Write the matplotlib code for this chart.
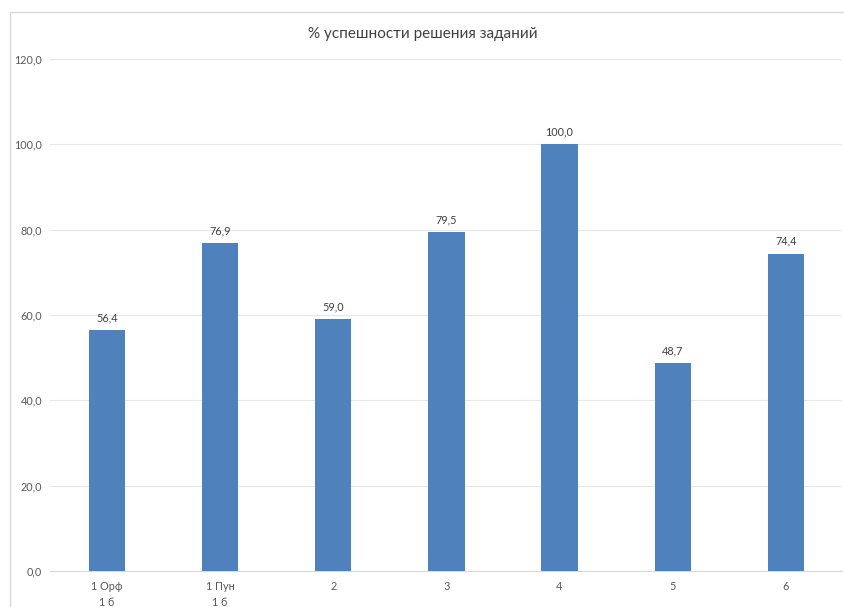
import matplotlib.pyplot as plt
from matplotlib.patches import Rectangle

plt.rcParams['font.family'] = ['Lato', 'DejaVu Sans']

categories = ['1 Орф\n1 б', '1 Пун\n1 б', '2', '3', '4', '5', '6']
values = [56.4, 76.9, 59.0, 79.5, 100.0, 48.7, 74.4]
yticks = [0, 20, 40, 60, 80, 100, 120]

fig = plt.figure(figsize=(8.45, 6.07), dpi=100)
# chart border
fig.patches.append(Rectangle((10 / 845, -0.01), 1.0, 1 - 12 / 607 + 0.01,
                             transform=fig.transFigure, fill=False,
                             edgecolor='#d9d9d9', linewidth=1))

ax = fig.add_axes([50.4 / 845, 36 / 607, 792 / 845, 512 / 607])
x = range(len(categories))
ax.bar(x, values, width=0.32, color='#4f81bd', zorder=3)

for xi, v in zip(x, values):
    ax.text(xi, v + 1.6, f'{v:.1f}'.replace('.', ','), ha='center', va='bottom',
            fontsize=7.8, color='#404040')

ax.set_xlim(-0.5, len(categories) - 0.5)
ax.set_ylim(0, 120)
ax.set_yticks(yticks)
ax.set_yticklabels([f'{t:.1f}'.replace('.', ',') for t in yticks])
ax.set_xticks(list(x))
ax.set_xticklabels(categories, linespacing=1.6)
ax.tick_params(axis='both', length=0, labelsize=7.8, labelcolor='#595959')
ax.tick_params(axis='y', pad=6)
ax.tick_params(axis='x', pad=7)
ax.grid(axis='y', color='#e6e6e6', linewidth=0.8, zorder=0)
for side in ['top', 'right', 'left']:
    ax.spines[side].set_visible(False)
ax.spines['bottom'].set_color('#d9d9d9')

fig.text(0.5, 1 - 34 / 607, '% успешности решения заданий', ha='center', va='center',
         fontsize=11, color='#404040')

fig.savefig('out.png', dpi=100)
